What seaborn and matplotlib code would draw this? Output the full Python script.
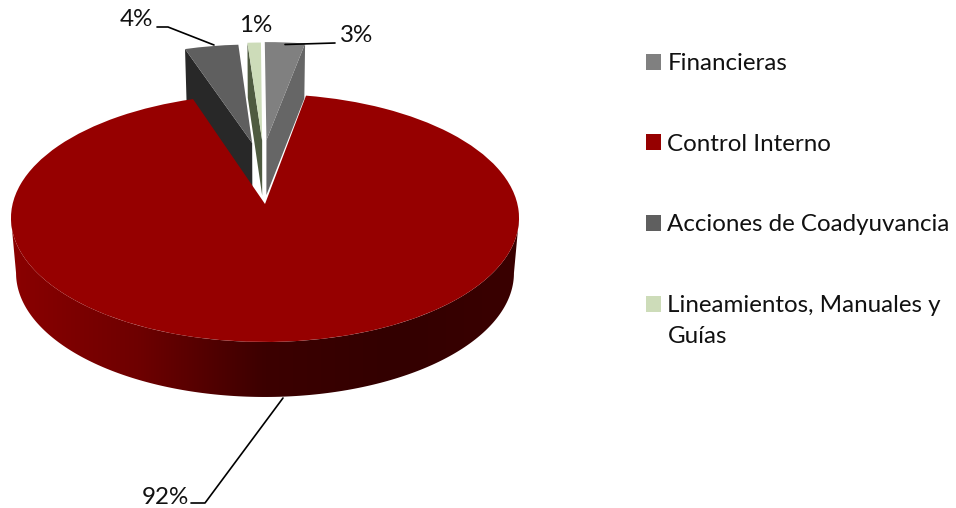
import numpy as np
import matplotlib
matplotlib.use("Agg")
import matplotlib.pyplot as plt
import seaborn as sns
from matplotlib.patches import Polygon
from matplotlib.transforms import Transform

categorias = ["Financieras", "Control Interno", "Acciones de Coadyuvancia",
              "Lineamientos, Manuales y\nGuías"]
valores = [3, 92, 4, 1]
colores = ["#808080", "#960000", "#5f5f5f", "#cddcb9"]
colores_pared = ["#666666", None, "#282828", "#4e5a40"]

sns.set_style("white")
plt.rcParams["font.family"] = ["Lato", "DejaVu Sans"]

TAM = 17.4
ALTO = 55          # grosor del pastel en pixeles
ESCALA_BASE = 0.98


# disco unidad -> pixeles, con perspectiva (lo de atras se ve mas chico)
class Perspectiva(Transform):
    input_dims = 2
    output_dims = 2

    def transform_non_affine(self, xy):
        xy = np.asarray(xy)
        w = 1 + 0.1129 * xy[:, 1]
        return np.column_stack([265 + 252.4 * xy[:, 0] / w, 204 - 122.4 * xy[:, 1] / w])


persp = Perspectiva()


def base(pts):
    # la cara de abajo del pastel
    pts = np.asarray(pts)
    return np.column_stack([265 + (pts[:, 0] - 265) * ESCALA_BASE, pts[:, 1] + ALTO])


fig = plt.figure(figsize=(9.56, 5.08), dpi=100)
ax = fig.add_axes([0, 0, 1, 1])

wedges, _ = ax.pie(valores, colors=colores, startangle=90.4, counterclock=False)

# las rebanadas chicas van separadas hacia atras
centros = [(0.006, 0.555), (0.0, 0.0), (-0.054, 0.528), (-0.012, 0.55)]
lado_pared = ["theta1", None, "theta2", "theta2"]
for w, c in zip(wedges, centros):
    w.set_center(c)
    w.set_transform(persp + ax.transData)
    w.set_linewidth(0)

# paredes de las rebanadas separadas
for w, lado, color in zip(wedges, lado_pared, colores_pared):
    if lado is None:
        w.set_zorder(5)
        continue
    w.set_zorder(2)
    t = np.radians(getattr(w, lado))
    c = np.array(w.center)
    arriba = persp.transform(np.array([c, c + w.r * np.array([np.cos(t), np.sin(t)])]))
    abajo = base(arriba)
    ax.add_patch(Polygon(np.vstack([arriba, abajo[::-1]]), closed=True, fc=color, lw=0, zorder=1))

# borde curvo de Control Interno con degradado, de lado a lado del contorno
t = np.radians(np.linspace(186.5, 353.5, 200))
arco = persp.transform(np.column_stack([np.cos(t), np.sin(t)]))
borde = Polygon(np.vstack([arco, base(arco)[::-1]]), closed=True, transform=ax.transData, fc="none", lw=0)
ax.add_patch(borde)
cmap = sns.blend_palette(["#8a0000", "#6e0000", "#3c0000", "#330000", "#3a0000"], as_cmap=True)
grad = ax.imshow(np.linspace(0, 1, 256)[None, :], cmap=cmap, extent=(11, 519, 398, 200),
                 aspect="auto", zorder=3, interpolation="bilinear")
grad.set_clip_path(borde)

ax.set_aspect("auto")
ax.set_xlim(0, 956)
ax.set_ylim(508, 0)
ax.axis("off")

# etiquetas y lineas guia
etiquetas = [f"{v}%" for v in valores]
ax.plot([285, 335], [44.5, 43], color="black", lw=1.2, zorder=6)
ax.plot([214, 168, 157], [45, 27, 27], color="black", lw=1.2, zorder=6)
ax.plot([283, 205, 191], [398, 503, 503], color="black", lw=1.2, zorder=6)
ax.text(340, 36, etiquetas[0], fontsize=TAM, va="center", ha="left", color="#111111")
ax.text(142, 497, etiquetas[1], fontsize=TAM, va="center", ha="left", color="#111111")
ax.text(120, 20, etiquetas[2], fontsize=TAM, va="center", ha="left", color="#111111")
ax.text(239, 26, etiquetas[3], fontsize=TAM, va="center", ha="left", color="#111111")

ley = ax.legend(wedges, categorias, loc="upper left", bbox_to_anchor=(0.6757, 0.895),
                frameon=False, fontsize=TAM, handlelength=0.62, handleheight=0.62,
                handletextpad=0.27, labelspacing=2.46, borderpad=0, borderaxespad=0,
                labelcolor="#111111")
for h in ley.get_patches():
    h.set_linewidth(0)
ley.get_texts()[3].set_linespacing(1.6)
ley.get_patches()[3].set_y(ley.get_patches()[3].get_y() + 12)

fig.savefig("out.png", dpi=100)
